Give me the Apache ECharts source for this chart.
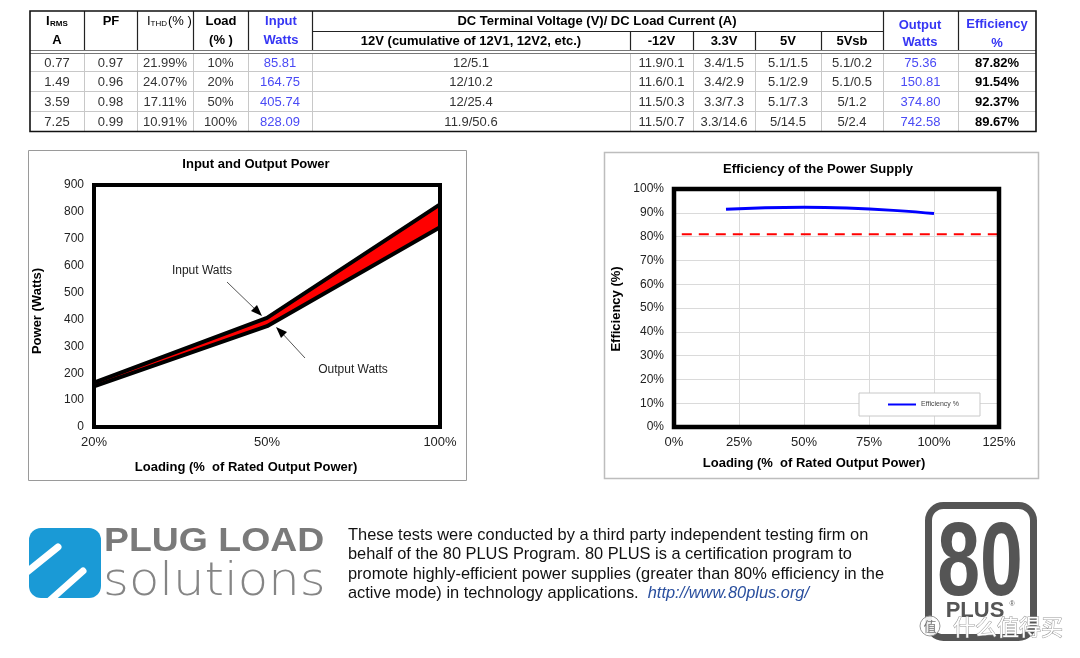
<!DOCTYPE html>
<html><head><meta charset="utf-8">
<script src="https://cdn.jsdelivr.net/npm/echarts@6/dist/echarts.min.js"></script>
<style>html,body{margin:0;padding:0;background:#fff}#c{width:1080px;height:658px}</style>
</head><body><div id="c"></div>
<script>
// ---------- table data ----------
const irms = ['0.77','1.49','3.59','7.25'];
const pf = ['0.97','0.96','0.98','0.99'];
const ithd = ['21.99%','24.07%','17.11%','10.91%'];
const loadPct = ['10%','20%','50%','100%'];
const inputWattsTbl = ['85.81','164.75','405.74','828.09'];
const v12 = ['12/5.1','12/10.2','12/25.4','11.9/50.6'];
const vNeg12 = ['11.9/0.1','11.6/0.1','11.5/0.3','11.5/0.7'];
const v33 = ['3.4/1.5','3.4/2.9','3.3/7.3','3.3/14.6'];
const v5 = ['5.1/1.5','5.1/2.9','5.1/7.3','5/14.5'];
const v5sb = ['5.1/0.2','5.1/0.5','5/1.2','5/2.4'];
const outputWattsTbl = ['75.36','150.81','374.80','742.58'];
const efficiencyTbl = ['87.82%','91.54%','92.37%','89.67%'];
const dcHeader = 'DC Terminal Voltage (V)/ DC Load Current (A)';
const dcSubHeaders = ['12V (cumulative of 12V1, 12V2, etc.)','-12V','3.3V','5V','5Vsb'];

// ---------- chart data ----------
const powerCategories = ['20%','50%','100%'];
const inputWatts = [164.75, 405.74, 828.09];
const outputWatts = [150.81, 374.80, 742.58];
const effLoad = [20, 50, 100];
const effValues = [91.54, 92.37, 89.67];
const thresholdX = [3, 125];
const thresholdY = [81, 81];

const paragraph = [
  'These tests were conducted by a third party independent testing firm on',
  'behalf of the 80 PLUS Program. 80 PLUS is a certification program to',
  'promote highly-efficient power supplies (greater than 80% efficiency in the',
  'active mode) in technology applications.  '
];
const url = 'http://www.80plus.org/';

// ---------- layout ----------
const FF = '"Liberation Sans", Arial, sans-serif';
const colX = [30, 84, 137, 193, 248, 312, 630, 693, 755, 821, 883, 958, 1036];
const rowY = [53, 71, 91, 111, 131];
const G = [];
function txt(x, y, t, font, fill, align, extra) {
  const o = {type:'text', silent:true, style:Object.assign({x:x, y:y, text:t, font:font, fill:fill||'#000',
    align:align||'center', verticalAlign:'middle'}, extra||{})};
  G.push(o); return o;
}
function line(x1,y1,x2,y2,stroke,w){
  G.push({type:'line', silent:true, shape:{x1:x1,y1:y1,x2:x2,y2:y2}, style:{stroke:stroke, lineWidth:w||1}});
}
const B13 = 'bold 13px ' + FF, R13 = '13px ' + FF;
// body grid
for (let i=1;i<colX.length-1;i++) line(colX[i]+0.5, 53, colX[i]+0.5, 131, '#c8c8c8', 1);
for (let j=1;j<rowY.length-1;j++) line(30, rowY[j]+0.5, 1036, rowY[j]+0.5, '#c8c8c8', 1);
// header grid
[1,2,3,4,5,10,11].forEach(i=>line(colX[i]+0.5, 11, colX[i]+0.5, 50, '#222', 1.2));
[6,7,8,9].forEach(i=>line(colX[i]+0.5, 31, colX[i]+0.5, 50, '#222', 1.2));
line(312, 31.5, 883, 31.5, '#222', 1.2);
line(30, 50.5, 1036, 50.5, '#777', 1);
line(30, 53.5, 1036, 53.5, '#777', 1);
G.push({type:'rect', silent:true, shape:{x:30,y:11,width:1006,height:120.5}, style:{fill:'none', stroke:'#111', lineWidth:1.6}});
// header text
txt(46, 21, 'I', B13, '#000', 'left'); txt(50, 24, 'RMS', 'bold 8px '+FF, '#000', 'left');
txt(57, 40, 'A', B13);
txt(111, 21, 'PF', B13);
txt(147, 21, 'I', R13, '#000', 'left'); txt(150.5, 24, 'THD', '8px '+FF, '#000', 'left');
txt(168, 21, '(% )', R13, '#000', 'left');
txt(221, 21, 'Load', B13); txt(221, 40, '(% )', B13);
txt(281, 21, 'Input', B13, '#3636f4'); txt(281, 40, 'Watts', B13, '#3636f4');
txt(597, 21, dcHeader, B13);
const subC = [471, 661.5, 724, 788, 852];
dcSubHeaders.forEach((t,i)=>txt(subC[i], 41, t, B13));
txt(920, 25, 'Output', B13, '#3636f4'); txt(920, 42, 'Watts', B13, '#3636f4');
txt(997, 24, 'Efficiency', B13, '#3636f4'); txt(997, 43, '%', B13, '#3636f4');
// body text
const cols = [irms, pf, ithd, loadPct, inputWattsTbl, v12, vNeg12, v33, v5, v5sb, outputWattsTbl, efficiencyTbl];
cols.forEach((arr, c) => {
  const cx = (colX[c] + colX[c+1]) / 2;
  arr.forEach((v, r) => {
    const cy = (rowY[r] + rowY[r+1]) / 2 + 1;
    let font = R13, fill = '#333';
    if (c === 4 || c === 10) fill = '#4a4af5';
    if (c === 11) { font = B13; fill = '#000'; }
    txt(cx, cy, v, font, fill);
  });
});
// chart frames and titles
G.push({type:'rect', silent:true, shape:{x:28.5,y:150.5,width:438,height:330}, style:{fill:'none', stroke:'#9a9a9a', lineWidth:1}});
G.push({type:'rect', silent:true, shape:{x:604.5,y:152.5,width:434,height:326}, style:{fill:'none', stroke:'#bdbdbd', lineWidth:1.5}});
G.push({type:'rect', silent:true, z:50, shape:{x:94,y:185,width:346,height:242}, style:{fill:'none', stroke:'#000', lineWidth:4}});
G.push({type:'rect', silent:true, z:50, shape:{x:674,y:189,width:325,height:238}, style:{fill:'none', stroke:'#000', lineWidth:4.5}});
txt(256, 164, 'Input and Output Power', B13);
txt(818, 169, 'Efficiency of the Power Supply', B13);
txt(246, 467, 'Loading (%  of Rated Output Power)', B13);
txt(814, 463, 'Loading (%  of Rated Output Power)', B13);
G.push({type:'text', silent:true, x:37, y:311, rotation:Math.PI/2, style:{x:0,y:0,text:'Power (Watts)', font:B13, fill:'#000', align:'center', verticalAlign:'middle'}});
G.push({type:'text', silent:true, x:616, y:309, rotation:Math.PI/2, style:{x:0,y:0,text:'Efficiency (%)', font:B13, fill:'#000', align:'center', verticalAlign:'middle'}});
// annotations
txt(202, 271, 'Input Watts', '12px '+FF, '#222');
txt(353, 370, 'Output Watts', '12px '+FF, '#222');
line(227, 282, 257, 311, '#555', 1);
G.push({type:'polygon', silent:true, shape:{points:[[262,316],[251,311],[257,305]]}, style:{fill:'#000'}});
line(305, 358, 281, 332, '#555', 1);
G.push({type:'polygon', silent:true, shape:{points:[[276,327],[287,332],[281,338]]}, style:{fill:'#000'}});
// plug load logo
G.push({type:'rect', silent:true, shape:{x:29,y:528,width:72,height:70,r:12}, style:{fill:'#1a9ad6'}});
G.push({type:'line', silent:true, shape:{x1:22,y1:576,x2:58,y2:547}, style:{stroke:'#fff', lineWidth:7, lineCap:'round'}});
G.push({type:'line', silent:true, shape:{x1:47,y1:603,x2:83,y2:571}, style:{stroke:'#fff', lineWidth:7, lineCap:'round'}});
G.push({type:'rect', silent:true, shape:{x:16,y:600,width:100,height:20}, style:{fill:'#fff'}});
G.push({type:'rect', silent:true, shape:{x:10,y:520,width:19,height:90}, style:{fill:'#fff'}});
G.push({type:'text', silent:true, x:104, y:542, scaleX:1.1, style:{x:0,y:0,text:'PLUG LOAD', font:'bold 34px '+FF, fill:'#7a7a7a', align:'left', verticalAlign:'middle'}});
G.push({type:'text', silent:true, x:103, y:583, scaleX:1.08, style:{x:0,y:0,text:'solutions', font:'200 46px "DejaVu Sans ExtraLight", "DejaVu Sans", sans-serif', fill:'#858585', align:'left', verticalAlign:'middle'}});
// paragraph
paragraph.forEach((t,i)=>{
  if (i < 3) txt(348, 535 + i*19.5, t, '16.4px '+FF, '#111', 'left');
});
G.push({type:'text', silent:true, style:{x:348, y:593.5, align:'left', verticalAlign:'middle',
  text:'{a|' + paragraph[3] + '}{u|' + url + '}',
  rich:{a:{font:'16.4px '+FF, fill:'#111'}, u:{font:'italic 16.4px '+FF, fill:'#2a4f9e'}}}});
// 80 PLUS logo
G.push({type:'rect', silent:true, shape:{x:928.5,y:505.5,width:105,height:132,r:15}, style:{fill:'none', stroke:'#555', lineWidth:7}});
G.push({type:'text', silent:true, x:980, y:566, scaleX:0.74, style:{x:0,y:0,text:'80', font:'bold 104px '+FF, fill:'#555', align:'center', verticalAlign:'middle'}});
txt(975, 611, 'PLUS', 'bold 22px '+FF, '#555');
txt(1012, 604, '®', '7px '+FF, '#555');
// watermark
G.push({type:'circle', silent:true, shape:{cx:930, cy:626, r:10}, style:{fill:'rgba(255,255,255,0.9)', stroke:'#999', lineWidth:1}});
txt(930, 626, '值', '13px "Noto Sans CJK SC"', '#777');
G.push({type:'text', silent:true, style:{x:953, y:627, text:'什么值得买', font:'22px "Noto Sans CJK SC"', fill:'#fff', stroke:'#999', lineWidth:1, align:'left', verticalAlign:'middle'}});

const chart = echarts.init(document.getElementById('c'), null, {renderer:'canvas'});
const axisLbl = {color:'#222', fontSize:12, fontFamily:FF};
chart.setOption({
  animation:false,
  backgroundColor:'#fff',
  textStyle:{fontFamily:FF},
  grid:[
    {left:94, top:185, width:346, height:242, show:false},
    {left:674, top:189, width:325, height:238, show:false}
  ],
  legend:{data:[{name:'Efficiency %', icon:'rect'}], left:859, top:393, orient:'horizontal', padding:[8,21,8,29], itemWidth:28, itemHeight:2,
    borderColor:'#c8c8c8', borderWidth:1, backgroundColor:'#fff', textStyle:{fontSize:7, color:'#444'}},
  xAxis:[
    {gridIndex:0, type:'category', data:powerCategories, boundaryGap:false, axisLine:{show:false}, axisTick:{show:false},
      axisLabel:Object.assign({}, axisLbl, {fontSize:13, margin:9}), splitLine:{show:false}},
    {gridIndex:1, type:'value', min:0, max:125, interval:25, axisLine:{show:false}, axisTick:{show:false},
      axisLabel:Object.assign({}, axisLbl, {fontSize:13, margin:9, formatter:'{value}%'}),
      splitLine:{show:true, lineStyle:{color:'#dadada', width:1}}}
  ],
  yAxis:[
    {gridIndex:0, type:'value', min:0, max:900, interval:100, axisLine:{show:false}, axisTick:{show:false},
      axisLabel:Object.assign({}, axisLbl, {margin:10}), splitLine:{show:false}},
    {gridIndex:1, type:'value', min:0, max:100, interval:10, axisLine:{show:false}, axisTick:{show:false},
      axisLabel:Object.assign({}, axisLbl, {margin:10, formatter:'{value}%'}),
      splitLine:{show:true, lineStyle:{color:'#dadada', width:1}}}
  ],
  series:[
    {type:'custom', name:'band', xAxisIndex:0, yAxisIndex:0, z:2, silent:true,
      data:powerCategories.map((c,i)=>[i, inputWatts[i], outputWatts[i]]),
      encode:{x:0, y:[1,2]},
      renderItem:function(params, api){
        const i = params.dataIndex;
        if (i >= powerCategories.length - 1) return {type:'group', children:[]};
        const pts = [api.coord([i, inputWatts[i]]), api.coord([i+1, inputWatts[i+1]]),
                     api.coord([i+1, outputWatts[i+1]]), api.coord([i, outputWatts[i]])];
        return {type:'polygon', shape:{points:pts}, style:{fill:'#ff0000'}};
      }},
    {type:'line', name:'Input Watts', xAxisIndex:0, yAxisIndex:0, data:inputWatts, symbol:'none', z:3,
      lineStyle:{color:'#000', width:4}, itemStyle:{color:'#000'}},
    {type:'line', name:'Output Watts', xAxisIndex:0, yAxisIndex:0, data:outputWatts, symbol:'none', z:3,
      lineStyle:{color:'#000', width:4}, itemStyle:{color:'#000'}},
    {type:'line', name:'threshold', xAxisIndex:1, yAxisIndex:1, data:thresholdX.map((x,i)=>[x, thresholdY[i]]),
      symbol:'none', z:3, lineStyle:{color:'#ff0000', width:2, type:[10,7]}, itemStyle:{color:'#ff0000'}},
    {type:'line', name:'Efficiency %', xAxisIndex:1, yAxisIndex:1, data:effLoad.map((x,i)=>[x, effValues[i]]),
      symbol:'none', smooth:0.5, z:4, lineStyle:{color:'#0000ff', width:3}, itemStyle:{color:'#0000ff'}}
  ],
  graphic:{elements:G}
});
</script></body></html>
